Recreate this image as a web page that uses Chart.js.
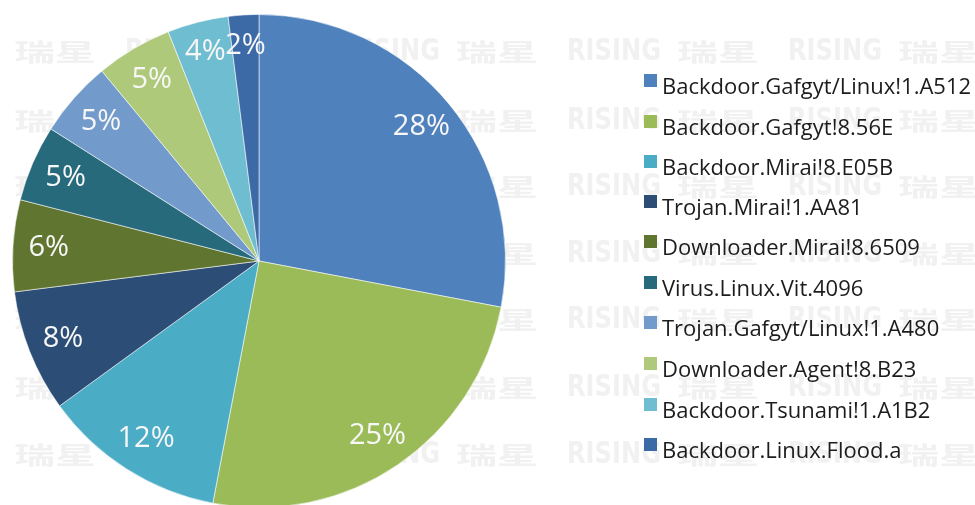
<!DOCTYPE html>
<html>
<head>
<meta charset="utf-8">
<script src="https://cdn.jsdelivr.net/npm/chart.js@4/dist/chart.umd.min.js"></script>
<style>
html, body { margin: 0; padding: 0; background: #fff; }
#wrap { position: relative; width: 975px; height: 505px; overflow: hidden; }
#pie { position: absolute; left: 0; top: 0; }
#legende { position: absolute; left: 644px; top: 0; margin: 0; padding: 0; list-style: none;
  font-family: "Open Sans", "Noto Sans", sans-serif; font-size: 22px; color: #1c1c1c; }
#legende li { position: absolute; left: 0; white-space: nowrap; height: 30px; line-height: 30px; }
#legende span.carre { position: absolute; left: 0; top: 4px; width: 13px; height: 13px; }
#legende span.nom { position: absolute; left: 18px; top: 0; }
</style>
</head>
<body>
<div id="wrap">
<canvas id="pie" width="975" height="522"></canvas>
<ul id="legende"></ul>
</div>
<script>
// familles de virus, part en %
var familles = ["Backdoor.Gafgyt/Linux!1.A512", "Backdoor.Gafgyt!8.56E", "Backdoor.Mirai!8.E05B",
  "Trojan.Mirai!1.AA81", "Downloader.Mirai!8.6509", "Virus.Linux.Vit.4096",
  "Trojan.Gafgyt/Linux!1.A480", "Downloader.Agent!8.B23", "Backdoor.Tsunami!1.A1B2",
  "Backdoor.Linux.Flood.a"]
var parts = [28, 25, 12, 8, 6, 5, 5, 5, 4, 2]
var couleurs = ["#4F81BD", "#9BBB59", "#4BACC6", "#2C4D75", "#5F7530", "#276A7C",
  "#729ACA", "#AFC97A", "#6FBDD1", "#3C6AA6"]

// filigrane en fond
var filigrane = {
  id: "filigrane",
  beforeDraw: function(chart){
    var ctx = chart.ctx
    ctx.save()
    ctx.fillStyle = "#f1f1f1"
    ctx.textBaseline = "middle"
    var lignes = [52, 121, 187, 254, 320, 388, 455]
    for(var i=0;i<lignes.length;i++){
      for(var x=-96;x<975;x+=221){
        ctx.save()
        ctx.translate(x, lignes[i])
        ctx.scale(0.78, 1)
        ctx.font = "bold 31px 'DejaVu Sans'"
        ctx.fillText("RISING", 0, 0)
        ctx.restore()
        ctx.save()
        ctx.translate(x + 110, lignes[i])
        ctx.scale(1.05, 0.62)
        ctx.font = "bold 39px 'Noto Sans CJK SC'"
        ctx.fillText("瑞星", 0, 0)
        ctx.restore()
      }
    }
    ctx.restore()
  }
}

// pourcentages dans les parts, un peu plus loin du centre pour les petites
var etiquettes = {
  id: "etiquettes",
  afterDatasetsDraw: function(chart){
    var ctx = chart.ctx
    var arcs = chart.getDatasetMeta(0).data
    ctx.save()
    ctx.fillStyle = "#f7f7f7"
    ctx.font = "29px 'Open Sans'"
    ctx.textAlign = "center"
    ctx.textBaseline = "middle"
    for(var i=0;i<arcs.length;i++){
      var a = arcs[i]
      var mil = (a.startAngle + a.endAngle) / 2
      var r = a.outerRadius * (parts[i] < 5 ? 0.875 : 0.855)
      ctx.fillText(parts[i] + "%", a.x + Math.cos(mil) * r, a.y + Math.sin(mil) * r)
    }
    ctx.restore()
  }
}

new Chart("pie", {type: "pie",
  data: {labels: familles, datasets: [{data: parts, backgroundColor: couleurs,
    borderColor: "rgba(255,255,255,0.55)", borderWidth: 1}]},
  options: {
    responsive: false,
    animation: false,
    layout: {padding: {left: 12, right: 469, top: 14, bottom: 14}},
    plugins: {legend: {display: false}, tooltip: {enabled: false}}
  },
  plugins: [filigrane, etiquettes]})

// legende a droite
var liste = document.getElementById("legende")
var lignesLeg = [85, 126, 166, 206, 246, 287, 327, 368, 409, 449]
for(var i=0;i<familles.length;i++){
  var li = document.createElement("li")
  li.style.top = (lignesLeg[i] - 15) + "px"
  var carre = document.createElement("span")
  carre.className = "carre"
  carre.style.background = couleurs[i]
  li.appendChild(carre)
  var nom = document.createElement("span")
  nom.className = "nom"
  nom.textContent = familles[i]
  li.appendChild(nom)
  liste.appendChild(li)
}
</script>
</body>
</html>
